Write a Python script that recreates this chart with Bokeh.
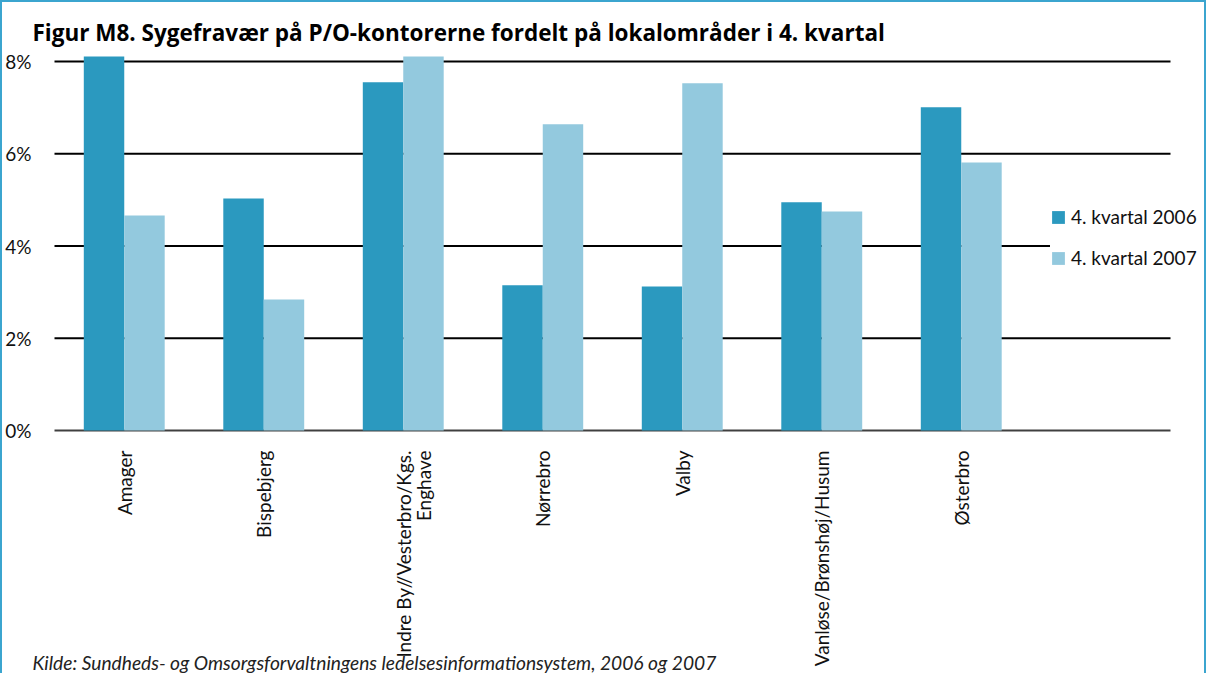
import math
import numpy as np
from bokeh.plotting import figure
from bokeh.models import Range1d, FixedTicker, Legend, LegendItem, Label
from bokeh.embed import file_html
from bokeh.resources import INLINE

categories = ["Amager", "Bispebjerg", "\nIndre By//Vesterbro/Kgs.\nEnghave", "Nørrebro",
              "Valby", "Vanløse/Brønshøj/Husum", "Østerbro"]
q4_2006 = [8.11, 5.03, 7.55, 3.15, 3.12, 4.95, 7.01]
q4_2007 = [4.66, 2.84, 8.11, 6.64, 7.53, 4.75, 5.81]
series_names = ["4. kvartal 2006", "4. kvartal 2007"]
y_ticks = [0, 2, 4, 6, 8]
title_text = "Figur M8. Sygefravær på P/O-kontorerne fordelt på lokalområder i 4. kvartal"
source_text = "Kilde: Sundheds- og Omsorgsforvaltningens ledelsesinformationsystem, 2006 og 2007"

DARK = "#2B99BF"
LIGHT = "#93C9DE"
BORDER = "#3BA5CF"
FONT = "Lato"

n_slots = len(categories) + 1
W, H = 1206, 673
ORIGIN_X, ORIGIN_Y = 52, 428          # pixel position of (0, 0) inside the canvas
SLOT_PX, UNIT_PX = 139.5, 46.125
x_start = -ORIGIN_X / SLOT_PX
x_end = x_start + W / SLOT_PX
y_end = ORIGIN_Y / UNIT_PX
y_start = y_end - H / UNIT_PX

p = figure(width=W, height=H, output_backend="svg", toolbar_location=None,
           x_range=Range1d(x_start, x_end), y_range=Range1d(y_start, y_end),
           min_border=0, min_border_left=0, min_border_right=0,
           min_border_top=0, min_border_bottom=0,
           background_fill_color="white", border_fill_color="white")
p.styles = {"border-left": f"2px solid {BORDER}", "border-top": f"2px solid {BORDER}",
            "border-right": f"2px solid {BORDER}"}
p.title.visible = False
p.outline_line_color = None
p.xgrid.visible = False
p.ygrid.visible = False

# gridlines
p.segment(x0=[0] * len(y_ticks), x1=[n_slots] * len(y_ticks), y0=y_ticks, y1=y_ticks,
          line_color=["#404040"] + ["black"] * (len(y_ticks) - 1), line_width=2)

idx = np.arange(len(categories)) + 0.5
bw = 0.29
r1 = p.vbar(x=idx - bw / 2, top=q4_2006, width=bw, fill_color=DARK, line_color=None)
r2 = p.vbar(x=idx + bw / 2, top=q4_2007, width=bw, fill_color=LIGHT, line_color=None)

# y axis at x = 0
p.yaxis.fixed_location = 0
p.yaxis.ticker = FixedTicker(ticks=y_ticks)
p.yaxis.major_label_overrides = {t: f"{t}%" for t in y_ticks}
p.yaxis.axis_line_color = None
p.yaxis.major_tick_line_color = None
p.yaxis.minor_tick_line_color = None
p.yaxis.major_label_standoff = 17
p.yaxis.major_label_text_font = FONT
p.yaxis.major_label_text_font_size = "19px"
p.yaxis.major_label_text_color = "#111111"

# x axis at y = 0
p.xaxis.fixed_location = 0
p.xaxis.ticker = FixedTicker(ticks=list(idx))
p.xaxis.major_label_overrides = {float(i): c for i, c in zip(idx, categories)}
p.xaxis.axis_line_color = None
p.xaxis.major_tick_line_color = None
p.xaxis.minor_tick_line_color = None
p.xaxis.major_label_orientation = math.pi / 2
p.xaxis.major_label_standoff = 14
p.xaxis.major_label_text_font = FONT
p.xaxis.major_label_text_font_size = "19px"
p.xaxis.major_label_text_line_height = 0.9
p.xaxis.major_label_text_color = "#111111"

legend = Legend(items=[LegendItem(label=series_names[0], renderers=[r1]),
                       LegendItem(label=series_names[1], renderers=[r2])],
                location=(1048, 406), orientation="vertical",
                background_fill_color="white", background_fill_alpha=1.0,
                border_line_color=None, glyph_width=16, glyph_height=16,
                label_height=22, spacing=18, padding=6, margin=0,
                label_text_font=FONT, label_text_font_size="19px",
                label_text_color="#111111", label_standoff=5)
p.add_layout(legend, "center")

p.add_layout(Label(x=30, y=643, x_units="screen", y_units="screen", text=title_text,
                   text_font="Open Sans", text_font_style="bold", text_font_size="22.5px",
                   text_color="black", text_baseline="alphabetic"))
p.add_layout(Label(x=30, y=13, x_units="screen", y_units="screen", text=source_text,
                   text_font=FONT, text_font_style="italic", text_font_size="19.2px",
                   text_color="#222222", text_baseline="alphabetic"))

open("out.html", "w").write(file_html(p, INLINE))
